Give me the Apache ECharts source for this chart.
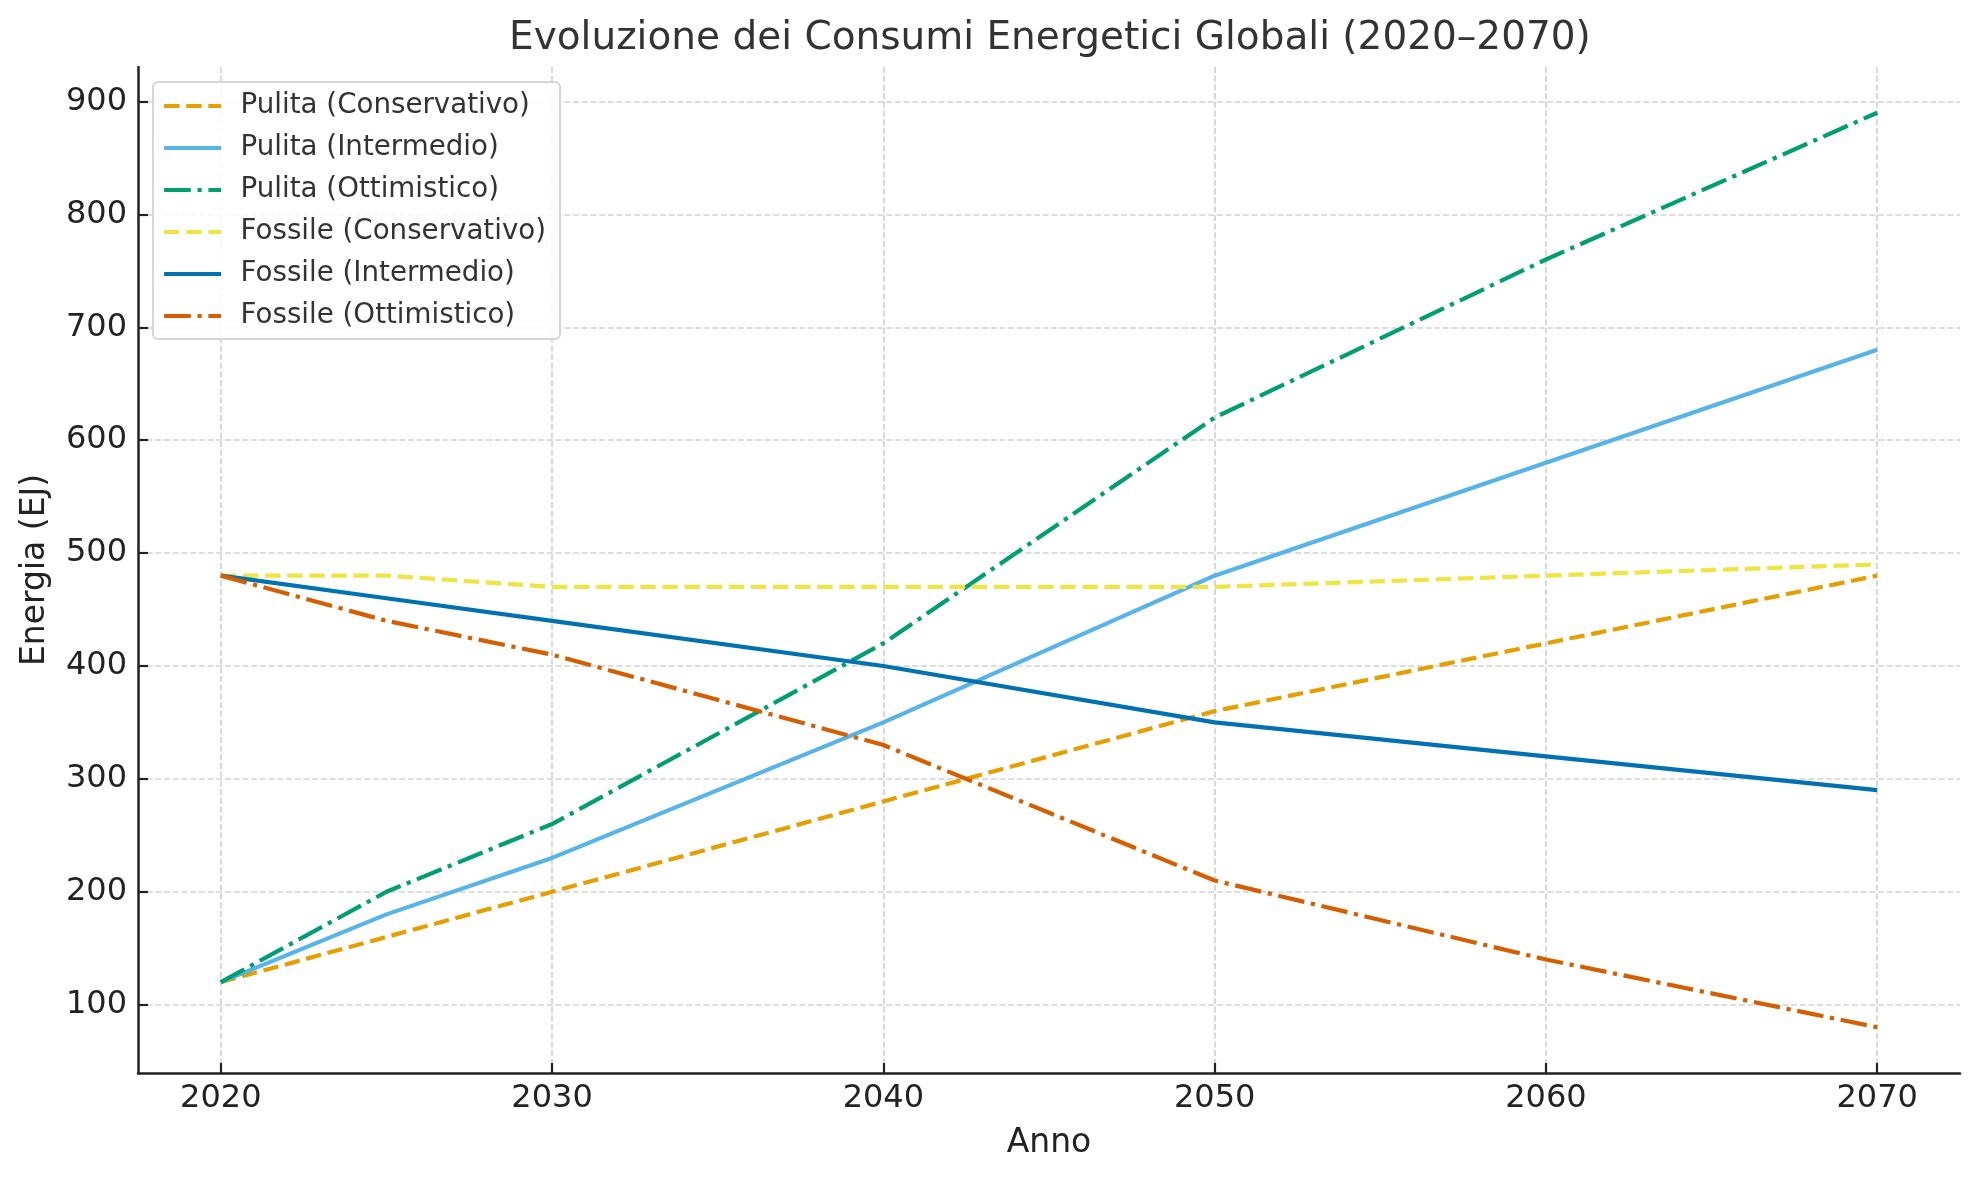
<!DOCTYPE html>
<html>
<head>
<meta charset="utf-8">
<script src="https://cdn.jsdelivr.net/npm/echarts@6/dist/echarts.min.js"></script>
<style>
html,body{margin:0;padding:0;background:#fff;}
#chart{width:1979px;height:1180px;}
</style>
</head>
<body>
<div id="chart"></div>
<script>
const years = [2020, 2025, 2030, 2040, 2050, 2060, 2070];
const pulitaConservativo = [120, 160, 200, 280, 360, 420, 480];
const pulitaIntermedio = [120, 180, 230, 350, 480, 580, 680];
const pulitaOttimistico = [120, 200, 260, 420, 620, 760, 890];
const fossileConservativo = [480, 480, 470, 470, 470, 480, 490];
const fossileIntermedio = [480, 460, 440, 400, 350, 320, 290];
const fossileOttimistico = [480, 440, 410, 330, 210, 140, 80];
const xTicks = [2020, 2030, 2040, 2050, 2060, 2070];
const yTicks = [100, 200, 300, 400, 500, 600, 700, 800, 900];

const FONT = 'DejaVu Sans';
const LW = 4.2;
const DASH = [15.4, 6.7];
const DASHDOT = [26.7, 6.7, 4.2, 6.7];

const seriesDefs = [
  {name: 'Pulita (Conservativo)', data: pulitaConservativo, color: '#E69F00', type: DASH},
  {name: 'Pulita (Intermedio)', data: pulitaIntermedio, color: '#56B4E9', type: 'solid'},
  {name: 'Pulita (Ottimistico)', data: pulitaOttimistico, color: '#009E73', type: DASHDOT},
  {name: 'Fossile (Conservativo)', data: fossileConservativo, color: '#F0E442', type: DASH},
  {name: 'Fossile (Intermedio)', data: fossileIntermedio, color: '#0072B2', type: 'solid'},
  {name: 'Fossile (Ottimistico)', data: fossileOttimistico, color: '#D55E00', type: DASHDOT}
];

const chart = echarts.init(document.getElementById('chart'), null, {renderer: 'canvas'});
const gridLine = {show: true, lineStyle: {color: '#d2d2d2', width: 1.7, type: [6, 2.7]}};
chart.setOption({
  backgroundColor: '#fff',
  animation: false,
  title: {
    text: 'Evoluzione dei Consumi Energetici Globali (2020–2070)',
    left: 504,
    top: 14,
    textStyle: {fontFamily: FONT, fontSize: 39, fontWeight: 'normal', color: '#333'}
  },
  grid: {left: 138, right: 19, top: 67, bottom: 107, containLabel: false},
  legend: {
    orient: 'vertical',
    left: 153,
    top: 82,
    padding: [10, 14, 9, 9],
    itemWidth: 57,
    itemHeight: 30,
    itemGap: 14,
    backgroundColor: 'rgba(255,255,255,0.85)',
    borderColor: '#d6d6d6',
    borderWidth: 2,
    borderRadius: 5,
    itemStyle: {opacity: 0, borderWidth: 0},
    lineStyle: {width: LW},
    textStyle: {fontFamily: FONT, fontSize: 27.7, color: '#333', padding: [0, 0, 0, 14.5]},
    data: seriesDefs.map(s => s.name)
  },
  xAxis: {
    type: 'value',
    min: 2017.5,
    max: 2072.5,
    name: 'Anno',
    nameLocation: 'middle',
    nameGap: 54,
    nameTextStyle: {fontFamily: FONT, fontSize: 33, color: '#222'},
    axisLine: {show: true, onZero: false, lineStyle: {color: '#222', width: 2.5}},
    axisTick: {show: true, inside: true, length: 10, lineStyle: {color: '#222', width: 2.2}, customValues: xTicks},
    axisLabel: {fontFamily: FONT, fontSize: 32, color: '#222', margin: 10, customValues: xTicks, formatter: v => String(v)},
    splitLine: gridLine
  },
  yAxis: {
    type: 'value',
    min: 39.5,
    max: 930.5,
    name: 'Energia (EJ)',
    nameLocation: 'middle',
    nameGap: 86,
    nameTextStyle: {fontFamily: FONT, fontSize: 33, color: '#222'},
    axisLine: {show: true, onZero: false, lineStyle: {color: '#222', width: 2.5}},
    axisTick: {show: true, inside: true, length: 10, lineStyle: {color: '#222', width: 2.2}, customValues: yTicks},
    axisLabel: {fontFamily: FONT, fontSize: 32, color: '#222', margin: 11, customValues: yTicks},
    splitLine: gridLine
  },
  series: seriesDefs.map(s => ({
    name: s.name,
    type: 'line',
    symbol: 'none',
    data: years.map((y, i) => [y, s.data[i]]),
    lineStyle: {color: s.color, width: LW, type: s.type},
    itemStyle: {color: s.color},
    z: 3
  }))
});
</script>
</body>
</html>
